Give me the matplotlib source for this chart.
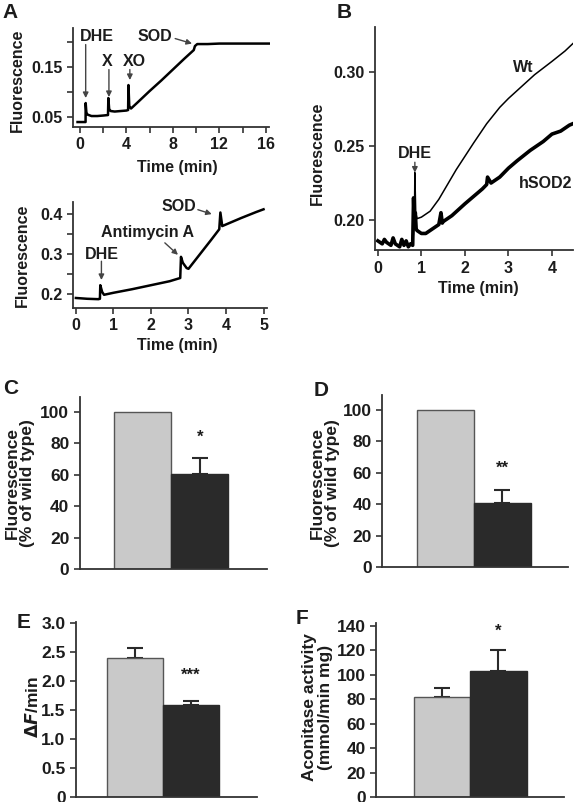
import matplotlib

matplotlib.use("Agg")
import matplotlib.pyplot as plt

plt.rcParams["font.family"] = ["Liberation Sans", "DejaVu Sans"]
plt.rcParams["font.weight"] = "bold"
plt.rcParams["axes.labelweight"] = "bold"

INK = "#1c1c1c"
LIGHT = "#c9c9c9"
DARK = "#2a2a2a"

# ---- panel A (top): xanthine / xanthine oxidase trace
a1_time = [-0.2, 0.49, 0.5, 0.56, 0.65, 1.0, 1.5, 2.0, 2.42, 2.45, 2.52, 2.65, 3.0, 3.5,
           4.0, 4.15, 4.18, 4.25, 4.4, 5.0, 6.0, 7.0, 8.0, 9.0, 9.8, 9.9, 10.1, 11.0,
           12.0, 13.0, 14.0, 15.0, 16.3]
a1_fluo = [0.040, 0.040, 0.078, 0.059, 0.055, 0.052, 0.052, 0.053, 0.054, 0.088, 0.066,
           0.062, 0.061, 0.062, 0.063, 0.064, 0.114, 0.072, 0.067, 0.080, 0.102, 0.123,
           0.145, 0.167, 0.184, 0.192, 0.196, 0.196, 0.197, 0.197, 0.197, 0.197, 0.197]

# ---- panel A (bottom): antimycin A trace
a2_time = [0.0, 0.3, 0.6, 0.64, 0.65, 0.7, 0.75, 1.0, 1.5, 2.0, 2.5, 2.78, 2.8, 2.85,
           2.95, 3.0, 3.3, 3.6, 3.82, 3.85, 3.9, 4.0, 4.4, 4.8, 5.0]
a2_fluo = [0.190, 0.188, 0.187, 0.188, 0.222, 0.205, 0.198, 0.203, 0.212, 0.222, 0.232,
           0.240, 0.293, 0.278, 0.265, 0.263, 0.299, 0.335, 0.362, 0.404, 0.370, 0.374,
           0.390, 0.405, 0.412]

# ---- panel B: Wt vs hSOD2 cells
b_sod_time = [0.0, 0.1, 0.15, 0.2, 0.3, 0.35, 0.4, 0.5, 0.55, 0.6, 0.65, 0.7, 0.75, 0.8,
              0.82, 0.84, 0.86, 0.88, 0.9, 1.0, 1.1, 1.2, 1.3, 1.4, 1.45, 1.48, 1.5, 1.7,
              2.0, 2.2, 2.4, 2.5, 2.52, 2.6, 2.8, 3.0, 3.2, 3.5, 3.8, 4.0, 4.2, 4.4, 4.48]
b_sod_fluo = [0.186, 0.184, 0.187, 0.185, 0.183, 0.188, 0.184, 0.182, 0.187, 0.183, 0.186,
              0.182, 0.184, 0.183, 0.215, 0.196, 0.205, 0.194, 0.193, 0.191, 0.191, 0.193,
              0.195, 0.197, 0.205, 0.198, 0.199, 0.203, 0.211, 0.216, 0.221, 0.224, 0.229,
              0.225, 0.229, 0.235, 0.240, 0.247, 0.253, 0.258, 0.260, 0.264, 0.265]
b_wt_time = [0.8, 0.84, 0.85, 0.87, 0.9, 1.0, 1.2, 1.4, 1.6, 1.8, 2.0, 2.2, 2.5, 2.8, 3.0,
             3.3, 3.6, 4.0, 4.3, 4.48]
b_wt_fluo = [0.184, 0.200, 0.232, 0.205, 0.201, 0.202, 0.206, 0.214, 0.224, 0.234, 0.243,
             0.252, 0.265, 0.276, 0.282, 0.290, 0.298, 0.307, 0.314, 0.319]

# ---- bar panels: [wild type, hSOD2], upward error only
c_vals, c_err = [100, 60.5], [0, 10.5]
d_vals, d_err = [100, 40.5], [0, 8.8]
e_vals, e_err = [2.41, 1.59], [0.17, 0.07]
f_vals, f_err = [82, 103], [7, 17]


def style(ax):
    for s in ("top", "right"):
        ax.spines[s].set_visible(False)
    for s in ("left", "bottom"):
        ax.spines[s].set_color("#333333")
        ax.spines[s].set_linewidth(1.3)
    ax.tick_params(direction="out", length=4, width=1.2, colors="#333333",
                   labelcolor=INK, labelsize=11.5)


def arrow(ax, text_xy, tip_xy):
    ax.annotate("", xy=tip_xy, xytext=text_xy,
                arrowprops=dict(arrowstyle="-|>", lw=1.0, color="#444444",
                                mutation_scale=8, shrinkA=0, shrinkB=0))


def bars(ax, vals, err, xlim, ylim, yticks, ylabel, lab_xy, star, star_y):
    style(ax)
    ax.bar([0, 1], vals, width=1.0, color=[LIGHT, DARK], edgecolor=["#555555", DARK],
           linewidth=1.0, zorder=2)
    for i, (v, e) in enumerate(zip(vals, err)):
        if e > 0:
            ax.errorbar([i], [v], yerr=[[0], [e]], fmt="none", ecolor=DARK,
                        elinewidth=1.5, capsize=5.5, capthick=1.5, zorder=1)
    ax.set_xlim(*xlim)
    ax.set_ylim(*ylim)
    ax.set_xticks([])
    ax.set_yticks(yticks)
    ax.tick_params(labelsize=12.5)
    ax.set_ylabel(ylabel, fontsize=12.5, color=INK, va="center", linespacing=1.05)
    ax.yaxis.set_label_coords(*lab_xy)
    ax.text(1, star_y, star, ha="center", va="center", fontsize=12, color=INK)


fig = plt.figure(figsize=(5.74, 8.02), dpi=100)

# A top
ax = fig.add_axes([0.127, 0.8416, 0.343, 0.1234])
style(ax)
ax.plot(a1_time, a1_fluo, color="black", lw=1.8)
ax.set_xlim(-0.6, 16.34)
ax.set_ylim(0.03, 0.228)
ax.set_xticks(range(0, 17, 2))
ax.set_xticklabels([str(t) if t % 4 == 0 else "" for t in range(0, 17, 2)])
ax.set_yticks([0.05, 0.10, 0.15, 0.20])
ax.set_yticklabels(["0.05", "", "0.15", ""])
ax.spines["bottom"].set_bounds(-0.6, 16.3)
ax.set_ylabel("Fluorescence", fontsize=11.5, color=INK, va="center")
ax.yaxis.set_label_coords(-0.284, 0.475)
ax.set_xlabel("Time (min)", fontsize=11.5, color=INK, va="center")
ax.xaxis.set_label_coords(0.528, -0.404)
kw = dict(ha="center", va="center", fontsize=11.5, color=INK)
ax.text(1.45, 0.212, "DHE", **kw)
ax.text(2.35, 0.162, "X", **kw)
ax.text(4.7, 0.162, "XO", **kw)
ax.text(6.45, 0.212, "SOD", **kw)
arrow(ax, (0.5, 0.195), (0.5, 0.088))
arrow(ax, (2.5, 0.145), (2.5, 0.090))
arrow(ax, (4.3, 0.145), (4.3, 0.124))
arrow(ax, (8.2, 0.207), (9.65, 0.197))

# A bottom
ax = fig.add_axes([0.127, 0.616, 0.338, 0.132])
style(ax)
ax.plot(a2_time, a2_fluo, color="black", lw=1.8)
ax.set_xlim(-0.08, 5.09)
ax.set_ylim(0.165, 0.43)
ax.set_xticks(range(0, 6))
ax.set_yticks([0.2, 0.25, 0.3, 0.35, 0.4])
ax.set_yticklabels(["0.2", "", "0.3", "", "0.4"])
ax.set_ylabel("Fluorescence", fontsize=11.5, color=INK, va="center")
ax.yaxis.set_label_coords(-0.258, 0.5)
ax.set_xlabel("Time (min)", fontsize=11.5, color=INK, va="center")
ax.xaxis.set_label_coords(0.536, -0.35)
ax.text(0.69, 0.300, "DHE", **kw)
ax.text(1.9, 0.355, "Antimycin A", **kw)
ax.text(2.75, 0.420, "SOD", **kw)
arrow(ax, (0.68, 0.282), (0.68, 0.235))
arrow(ax, (2.37, 0.328), (2.72, 0.298))
arrow(ax, (3.25, 0.411), (3.62, 0.400))

# B
ax = fig.add_axes([0.653, 0.688, 0.345, 0.278])
style(ax)
ax.plot(b_sod_time, b_sod_fluo, color="black", lw=2.6)
ax.plot(b_wt_time, b_wt_fluo, color="black", lw=1.1)
ax.set_xlim(-0.07, 4.48)
ax.set_ylim(0.1797, 0.330)
ax.set_xticks(range(0, 5))
ax.set_yticks([0.20, 0.25, 0.30])
ax.set_yticklabels(["0.20", "0.25", "0.30"])
ax.set_ylabel("Fluorescence", fontsize=11.5, color=INK, va="center")
ax.yaxis.set_label_coords(-0.288, 0.435)
ax.set_xlabel("Time (min)", fontsize=11.5, color=INK, va="center")
ax.xaxis.set_label_coords(0.525, -0.17)
ax.text(3.33, 0.303, "Wt", **kw)
ax.text(3.86, 0.225, "hSOD2", **kw)
ax.text(0.85, 0.245, "DHE", **kw)
arrow(ax, (0.85, 0.239), (0.85, 0.232))

# C, D, E, F
ax = fig.add_axes([0.139, 0.2905, 0.326, 0.2145])
bars(ax, c_vals, c_err, (-1.105, 2.175), (0, 109.6), range(0, 101, 20),
     "Fluorescence\n(% of wild type)", (-0.32, 0.5), "*", 84)

ax = fig.add_axes([0.6655, 0.293, 0.324, 0.2145])
bars(ax, d_vals, d_err, (-1.11, 2.15), (0, 109.5), range(0, 101, 20),
     "Fluorescence\n(% of wild type)", (-0.306, 0.49), "**", 63)

ax = fig.add_axes([0.1324, 0.0062, 0.315, 0.218])
bars(ax, e_vals, e_err, (-1.05, 2.18), (0, 3.02), [0, 0.5, 1.0, 1.5, 2.0, 2.5, 3.0],
     r"$\Delta F$/min", (-0.243, 0.514), "***", 2.1)
ax.set_yticklabels(["0", "0.5", "1.0", "1.5", "2.0", "2.5", "3.0"])

ax = fig.add_axes([0.655, 0.0062, 0.3275, 0.217])
bars(ax, f_vals, f_err, (-1.17, 2.16), (0, 142.5), range(0, 141, 20),
     "Aconitase activity\n(mmol/min mg)", (-0.311, 0.517), "*", 136)

for letter, x, y in (("A", 10, 13), ("B", 344, 12), ("C", 11, 388),
                     ("D", 321, 390), ("E", 24, 622), ("F", 302, 618)):
    fig.text(x / 574, 1 - y / 802, letter, ha="center", va="center",
             fontsize=15, fontweight="bold", color=INK)

fig.savefig("out.png", dpi=100)
